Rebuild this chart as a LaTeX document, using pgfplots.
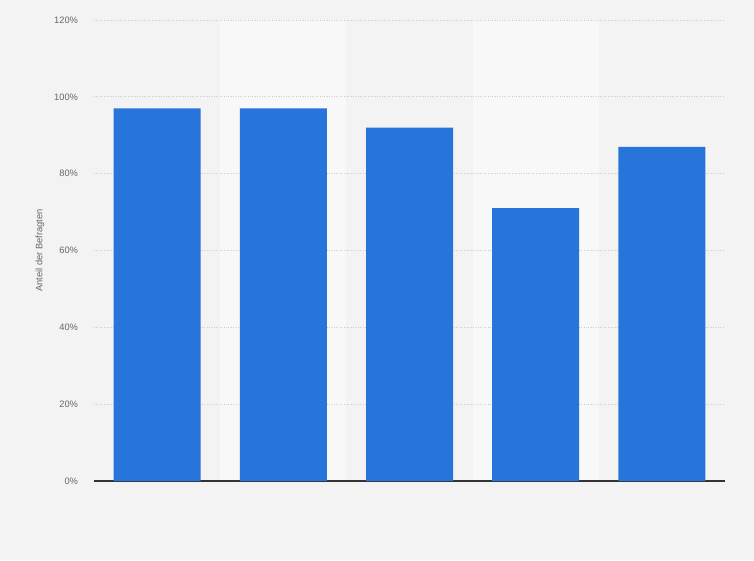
\documentclass[border=0pt]{standalone}
\usepackage{fontspec}
\setmainfont{Liberation Sans}
\usepackage{pgfplots}
\pgfplotsset{compat=1.18}
\definecolor{bg}{HTML}{F3F3F3}
\definecolor{band}{HTML}{F8F8F8}
\definecolor{barblue}{HTML}{2775DB}
\definecolor{txt}{HTML}{666666}
\definecolor{gridc}{HTML}{CCCCCC}
\begin{document}
\begin{tikzpicture}[x=1pt,y=1pt]
\fill[bg] (0,0) rectangle (754,560);
% lighter bands behind the 2nd and 4th category
\fill[band] (220.2,79) rectangle (346.4,540);
\fill[band] (472.6,79) rectangle (598.8,540);
\begin{axis}[
    at={(94pt,79pt)},
    anchor=south west,
    scale only axis,
    width=631pt,
    height=461pt,
    xmin=-0.5, xmax=4.5,
    ymin=0, ymax=120,
    xtick=\empty,
    ytick={0,20,...,120},
    yticklabel={\pgfmathprintnumber{\tick}\%},
    /pgf/number format/assume math mode=true,
    ticklabel style={font=\fontsize{9.3}{11}\selectfont, text=txt},
    yticklabel style={xshift=-12.5pt},
    major tick length=0pt,
    ymajorgrids,
    grid style={dotted, draw=gridc, line width=0.7pt},
    axis x line=bottom,
    axis y line=left,
    x axis line style={-, draw=black!80, line width=1.1pt},
    y axis line style={draw=none},
    ylabel={Anteil der Befragten},
    ylabel style={at={(axis description cs:-0.0856,0.5)}, anchor=center, font=\fontsize{9.3}{11}\selectfont, text=txt},
    ybar,
    bar width=87pt,
]
\addplot[fill=barblue, draw=none] coordinates {
    (0,97) (1,97) (2,92) (3,71) (4,87)
};
\end{axis}
\end{tikzpicture}
\end{document}
